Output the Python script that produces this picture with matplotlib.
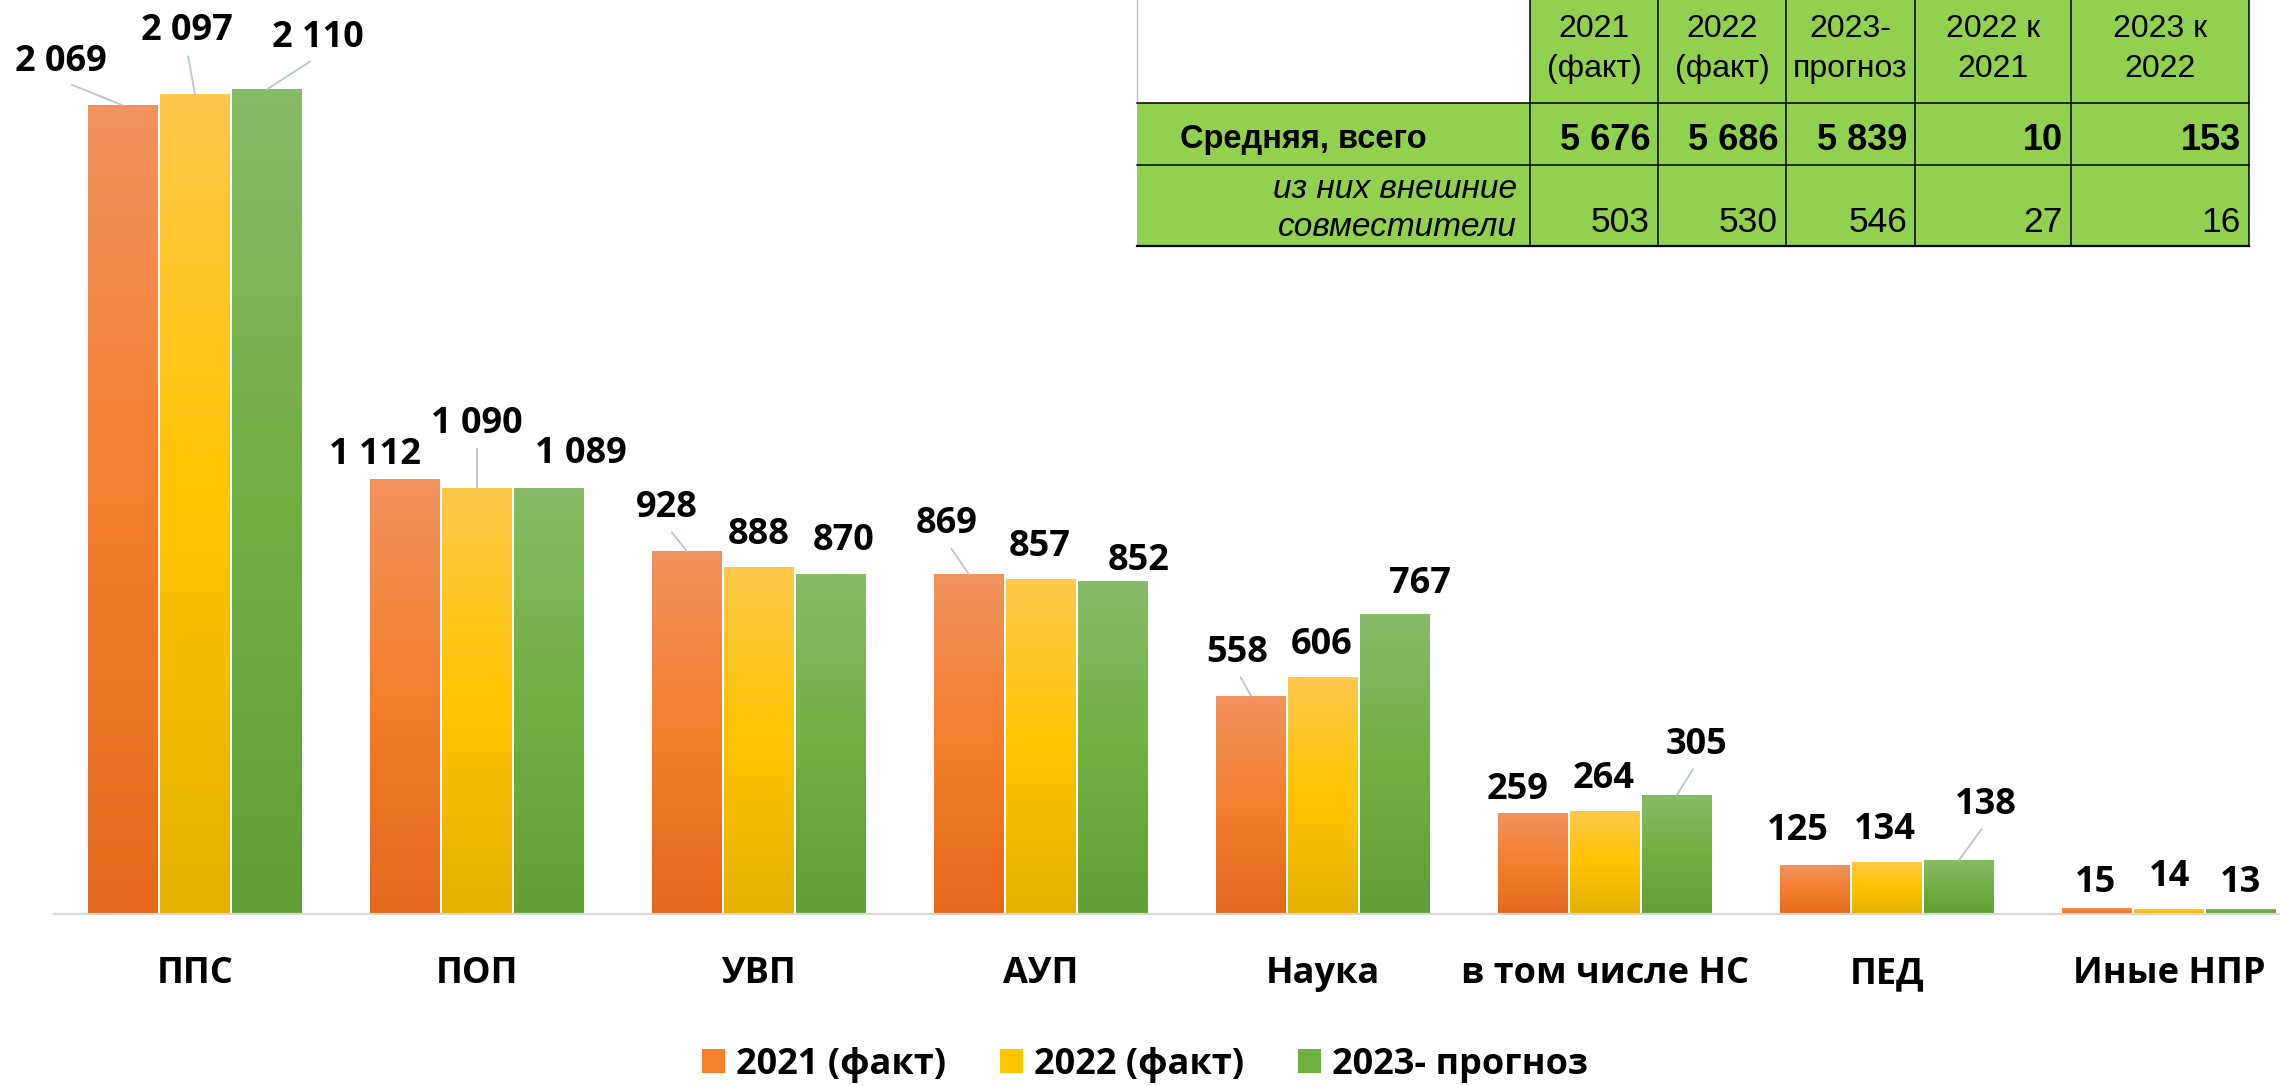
import numpy as np
import matplotlib
matplotlib.use('Agg')
import matplotlib.pyplot as plt
from matplotlib.colors import LinearSegmentedColormap
from matplotlib.patches import Rectangle, Patch

# ---------------- data ----------------
categories = ['ППС', 'ПОП', 'УВП', 'АУП', 'Наука', 'в том числе НС', 'ПЕД', 'Иные НПР']
series_names = ['2021 (факт)', '2022 (факт)', '2023- прогноз']
v2021 = [2069, 1112, 928, 869, 558, 259, 125, 15]
v2022 = [2097, 1090, 888, 857, 606, 264, 134, 14]
v2023 = [2110, 1089, 870, 852, 767, 305, 138, 13]

table_header = ['2021\n(факт)', '2022\n(факт)', '2023-\nпрогноз', '2022 к\n2021', '2023 к\n2022']
table_row_labels = ['Средняя, всего', 'из них внешние\nсовместители']
total_avg = [5676, 5686, 5839, 10, 153]
external = [503, 530, 546, 27, 16]

# ---------------- styling / layout ----------------
W, H, DPI = 2280, 1086, 100
PX = 72 / DPI
FONT = 'Open Sans'
TFONT = 'Liberation Sans'

# label placement (pixels, label centre relative to bar top centre)
lab_dx = [[-62, -30, -20, -22, -14, -15, -17, -1],
          [-8, 0, 0, -1, -1, -1, -2, 1],
          [51, 32, 13, 26, 25, 20, 27, 0]]
lab_dy = [[47, 28, 47, 54, 47, 27, 38, 29],
          [67, 68, 36, 36, 36, 36, 36, 36],
          [55, 38, 37, 24, 34, 54, 59, 30]]
leader = [[1, 0, 1, 1, 1, 0, 0, 0],
          [1, 1, 0, 0, 0, 0, 0, 0],
          [1, 0, 0, 0, 0, 1, 1, 0]]

stops = [['#F1925E', '#F47F2E', '#E3681B'],
         ['#FFC84B', '#FFC400', '#E4B100'],
         ['#87BB67', '#71AF43', '#609F36']]
lead_col = '#B7C4D6'


def fmt(v):
    return f"{v:,}".replace(',', ' ')


fig = plt.figure(figsize=(W / DPI, H / DPI), dpi=DPI)
ax = fig.add_axes([54 / W, 1 - 914 / H, 1 - 54 / W, 914 / H])

series = [v2021, v2022, v2023]
x = np.arange(len(categories))
bw = 0.248
step = 0.2553
grad = np.linspace(0, 1, 256).reshape(-1, 1)

for k, vals in enumerate(series):
    cmap = LinearSegmentedColormap.from_list(f'g{k}', stops[k][::-1])
    bars = ax.bar(x + (k - 1) * step, vals, width=bw, color='none',
                  edgecolor='none', zorder=2)
    for b in bars:
        bx, bh, bwid = b.get_x(), b.get_height(), b.get_width()
        im = ax.imshow(grad, extent=[bx, bx + bwid, 0, bh], origin='lower',
                       cmap=cmap, aspect='auto', zorder=2,
                       interpolation='bilinear')
        im.set_clip_path(b)
    for i, v in enumerate(vals):
        kw = {}
        if leader[k][i]:
            kw['arrowprops'] = dict(arrowstyle='-', color=lead_col, lw=1.3,
                                    shrinkA=3, shrinkB=0, relpos=(0.5, 0))
        ax.annotate(fmt(v), xy=(x[i] + (k - 1) * step, v),
                    xytext=(lab_dx[k][i] * PX, (lab_dy[k][i] - 13) * PX),
                    textcoords='offset points', ha='center', va='baseline',
                    fontsize=26, fontweight='bold', family=FONT,
                    annotation_clip=False, zorder=4, **kw)

ax.set_xlim(-0.5, 7 + 111 / 282)
ax.set_ylim(0, 914 / 0.3908)
for s in ['top', 'left', 'right']:
    ax.spines[s].set_visible(False)
ax.spines['bottom'].set_color('#D9D9D9')
ax.spines['bottom'].set_linewidth(2.2 * PX)
ax.set_yticks([])
ax.set_xticks(x)
ax.set_xticklabels(categories, fontsize=26, fontweight='bold', family=FONT)
ax.tick_params(axis='x', length=0, pad=(983 - 914) * PX)
for lbl in ax.get_xticklabels():
    lbl.set_va('baseline')

handles = [Patch(facecolor=stops[k][1], edgecolor='none') for k in range(3)]
fig.legend(handles, series_names, loc='center',
           bbox_to_anchor=(1145 / W, 1 - 1065 / H), ncol=3, frameon=False,
           prop={'family': FONT, 'weight': 'bold', 'size': 26},
           handlelength=0.64, handleheight=0.64, handletextpad=0.3,
           columnspacing=1.5, borderpad=0, borderaxespad=0)

# ---------------- table (top right) ----------------
tax = fig.add_axes([0, 0, 1, 1], zorder=5)
tax.set_xlim(0, W)
tax.set_ylim(H, 0)
tax.axis('off')
cols = [1137, 1530, 1658, 1786, 1915, 2071, 2249]
rows = [-3, 103, 165, 246]
green = '#92D050'
tax.add_patch(Rectangle((cols[1], rows[0]), cols[-1] - cols[1], rows[1] - rows[0],
                        fc=green, ec='none'))
tax.add_patch(Rectangle((cols[0], rows[1]), cols[-1] - cols[0], rows[3] - rows[1],
                        fc=green, ec='none'))
for xc in cols[1:]:
    tax.plot([xc, xc], [rows[0], rows[3]], color='black', lw=1.1)
tax.plot([cols[0], cols[0]], [rows[0], rows[1]], color='#C0C0C0', lw=1)
for yr in rows[1:3]:
    tax.plot([cols[0], cols[-1]], [yr, yr], color='black', lw=1.1)
tax.plot([cols[0], cols[-1]], [rows[3], rows[3]], color='black', lw=1.6)

for j, h in enumerate(table_header):
    l1, l2 = h.split('\n')
    xc = (cols[j + 1] + cols[j + 2]) / 2
    tax.text(xc, 37, l1, ha='center', va='baseline', fontsize=23, family=TFONT)
    tax.text(xc, 77, l2, ha='center', va='baseline', fontsize=23, family=TFONT)

tax.text(1180, 148, table_row_labels[0], ha='left', va='baseline',
         fontsize=23.5, fontweight='bold', family=TFONT)
for j, v in enumerate(total_avg):
    tax.text(cols[j + 2] - 8, 150, fmt(v), ha='right', va='baseline',
             fontsize=26, fontweight='bold', family=TFONT)

r2a, r2b = table_row_labels[1].split('\n')
tax.text(1517, 198, r2a, ha='right', va='baseline', fontsize=24,
         style='italic', family=TFONT)
tax.text(1517, 236, r2b, ha='right', va='baseline', fontsize=24,
         style='italic', family=TFONT)
for j, v in enumerate(external):
    tax.text(cols[j + 2] - 8, 232, fmt(v), ha='right', va='baseline',
             fontsize=25.5, family=TFONT)

fig.savefig('out.png', dpi=DPI)
